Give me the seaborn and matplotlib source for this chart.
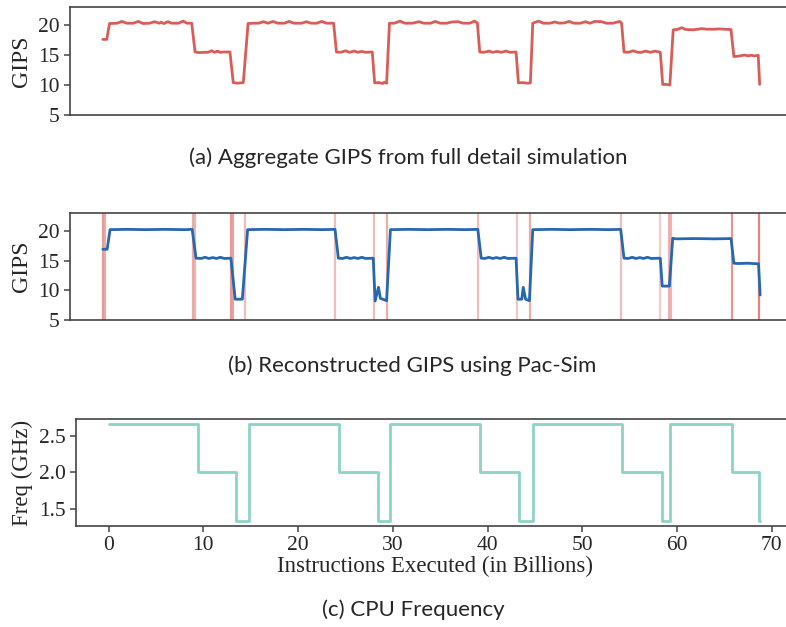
import numpy as np
import pandas as pd
import matplotlib
matplotlib.use("Agg")
import matplotlib.pyplot as plt
import seaborn as sns

# (a) aggregate GIPS, full detail simulation
full_x = [0.0, 0.4, 0.7, 1.5, 2.0, 2.5, 3.2, 3.7, 4.2, 4.9, 5.4, 5.9, 6.1, 6.4, 6.8, 7.2, 7.9, 8.4, 8.8, 9.3,
          9.65, 10.1, 10.6, 11.0, 11.4, 11.7, 12.0, 12.3, 12.7, 13.3, 13.65, 14.1, 14.7,
          15.2, 15.8, 16.3, 16.8, 17.3, 17.8, 18.3, 19.0, 19.5, 20.0, 20.8, 21.3, 21.8, 22.4, 22.9, 23.4, 24.15,
          24.45, 24.9, 25.4, 25.8, 26.3, 26.7, 27.1, 27.5, 28.2, 28.45, 28.9, 29.3, 29.45, 29.7,
          30.0, 30.5, 31.1, 31.6, 32.4, 33.1, 33.6, 34.3, 34.8, 35.3, 36.0, 36.5, 37.2, 37.7, 38.4, 38.9, 39.2,
          39.45, 39.9, 40.4, 40.8, 41.3, 41.7, 42.2, 42.6, 43.25, 43.5, 44.0, 44.4, 44.75,
          45.0, 45.6, 46.1, 46.8, 47.3, 47.8, 48.3, 48.8, 49.3, 50.0, 50.5, 51.0, 51.5, 52.2, 52.7, 53.4, 54.1, 54.3,
          54.55, 55.0, 55.5, 56.0, 56.4, 56.8, 57.3, 57.8, 58.35, 58.6, 59.0, 59.35,
          59.7, 60.1, 60.6, 61.0, 61.8, 62.3, 62.7, 63.2, 64.0, 64.5, 65.0, 65.75,
          66.05, 66.5, 67.2, 67.5, 67.9, 68.2, 68.6, 68.75]
full_gips = [17.6, 17.6, 20.25, 20.3, 20.6, 20.3, 20.3, 20.6, 20.25, 20.3, 20.55, 20.3, 20.45, 20.25, 20.55, 20.3, 20.3, 20.65, 20.3, 20.3,
             15.5, 15.4, 15.45, 15.45, 15.7, 15.45, 15.65, 15.45, 15.5, 15.5, 10.4, 10.3, 10.4,
             20.25, 20.3, 20.3, 20.55, 20.3, 20.6, 20.3, 20.3, 20.6, 20.3, 20.3, 20.55, 20.3, 20.3, 20.6, 20.3, 20.3,
             15.5, 15.45, 15.7, 15.45, 15.65, 15.45, 15.6, 15.45, 15.5, 10.35, 10.4, 10.25, 10.45, 10.3,
             20.3, 20.3, 20.65, 20.3, 20.3, 20.55, 20.3, 20.3, 20.6, 20.3, 20.3, 20.5, 20.55, 20.3, 20.3, 20.65, 20.35,
             15.5, 15.45, 15.65, 15.45, 15.6, 15.45, 15.65, 15.45, 15.5, 10.35, 10.4, 10.3, 10.35,
             20.3, 20.65, 20.3, 20.3, 20.5, 20.3, 20.35, 20.6, 20.3, 20.3, 20.55, 20.3, 20.6, 20.55, 20.3, 20.3, 20.6, 20.3,
             15.5, 15.45, 15.7, 15.45, 15.45, 15.65, 15.45, 15.65, 15.45, 10.1, 10.1, 10.0,
             19.2, 19.25, 19.55, 19.25, 19.2, 19.3, 19.4, 19.3, 19.3, 19.35, 19.3, 19.25,
             14.75, 14.8, 15.0, 14.85, 14.95, 14.85, 14.95, 10.1]

# (b) GIPS reconstructed with Pac-Sim
pac_x = [0.0, 0.45, 0.75, 2.5, 4.5, 6.5, 8.5, 9.35,
         9.75, 10.3, 10.7, 11.1, 11.5, 11.9, 12.3, 12.7, 13.4, 13.85, 14.6,
         15.15, 17.0, 19.0, 21.0, 23.0, 24.3,
         24.65, 25.1, 25.5, 25.9, 26.3, 26.7, 27.1, 27.5, 28.3, 28.5, 28.85, 29.05, 29.7,
         30.1, 32.0, 34.0, 36.0, 38.0, 39.25,
         39.6, 40.0, 40.4, 40.8, 41.2, 41.6, 42.0, 42.4, 43.25, 43.45, 43.85, 44.0, 44.25, 44.65,
         45.0, 47.0, 49.0, 51.0, 53.0, 54.2,
         54.55, 55.0, 55.4, 55.8, 56.2, 56.6, 57.0, 57.4, 58.35, 58.55, 59.3,
         59.65, 60.0, 62.0, 64.0, 65.75,
         66.05, 66.5, 67.5, 68.63, 68.8]
pac_gips = [16.9, 16.9, 20.2, 20.25, 20.2, 20.25, 20.2, 20.25,
            15.4, 15.35, 15.55, 15.35, 15.5, 15.35, 15.55, 15.35, 15.4, 8.5, 8.5,
            20.2, 20.25, 20.2, 20.25, 20.2, 20.25,
            15.4, 15.35, 15.55, 15.35, 15.5, 15.35, 15.55, 15.35, 15.4, 8.2, 10.5, 8.65, 8.25,
            20.2, 20.25, 20.2, 20.25, 20.2, 20.25,
            15.4, 15.35, 15.55, 15.35, 15.5, 15.35, 15.55, 15.35, 15.4, 8.5, 8.5, 10.5, 8.5, 8.25,
            20.2, 20.25, 20.2, 20.25, 20.2, 20.25,
            15.4, 15.35, 15.55, 15.35, 15.5, 15.35, 15.55, 15.35, 15.4, 10.7, 10.7,
            18.75, 18.65, 18.7, 18.65, 18.7,
            14.55, 14.5, 14.55, 14.45, 9.2]

# sample points chosen by Pac-Sim (red markers)
sample_x = [0.0, 0.25, 9.4, 9.6, 13.45, 13.6, 14.88, 24.3, 28.4, 29.72,
            39.25, 43.33, 44.72, 54.25, 58.33, 59.3, 59.5, 65.9, 68.7]
sample_alpha = [0.6, 0.5, 0.5, 0.45, 0.6, 0.55, 0.4, 0.4, 0.4, 0.5,
                0.4, 0.35, 0.5, 0.4, 0.3, 0.45, 0.45, 0.65, 0.75]

# (c) CPU frequency
freq_x = [0.0, 9.4, 13.45, 14.8, 24.3, 28.4, 29.7, 39.2, 43.3, 44.75, 54.2, 58.4, 59.3, 65.8, 68.7, 68.8]
freq_ghz = [2.66, 2.0, 1.33, 2.66, 2.0, 1.33, 2.66, 2.0, 1.33, 2.66, 2.0, 1.33, 2.66, 2.0, 1.33, 1.33]

RED = "#d95c57"
BLUE = "#2767b0"
TEAL = "#8dd3c7"
SERIF = ["Liberation Serif", "DejaVu Serif"]

sns.set_style("ticks")
plt.rcParams["font.family"] = SERIF
plt.rcParams["axes.edgecolor"] = "#444444"
plt.rcParams["axes.linewidth"] = 1.2

W, H = 786, 627
fig = plt.figure(figsize=(W / 100, H / 100), dpi=100)
ax_a = fig.add_axes([70 / W, 1 - 115 / H, 723 / W, 108 / H])
ax_b = fig.add_axes([70 / W, 1 - 320 / H, 723 / W, 107 / H])
ax_c = fig.add_axes([76 / W, 1 - 526 / H, 717 / W, 107 / H])

sns.lineplot(x=full_x, y=full_gips, ax=ax_a, color=RED, lw=2.0, sort=False, estimator=None)

for xv, a in zip(sample_x, sample_alpha):
    ax_b.axvline(xv, color=RED, alpha=a, lw=1.6, zorder=1)
sns.lineplot(x=pac_x, y=pac_gips, ax=ax_b, color=BLUE, lw=2.0, sort=False, estimator=None, zorder=3)

sns.lineplot(x=freq_x, y=freq_ghz, ax=ax_c, color=TEAL, lw=2.0, sort=False, estimator=None,
             drawstyle="steps-post")

for ax in (ax_a, ax_b, ax_c):
    ax.set_xlim(-3.44, 72.24)
    ax.spines["right"].set_visible(False)
    ax.tick_params(axis="both", labelsize=15.5, length=4, width=1.1, color="#444444")

for ax in (ax_a, ax_b):
    ax.set_ylim(5, 23)
    ax.set_yticks([5, 10, 15, 20])
    ax.set_xticks([])
    ax.set_xlabel("")
    ax.set_ylabel("GIPS", fontsize=17)

ax_c.set_ylim(1.2635, 2.7265)
ax_c.set_yticks([1.5, 2.0, 2.5])
ax_c.set_yticklabels(["1.5", "2.0", "2.5"])
ax_c.set_xticks(range(0, 71, 10))
ax_c.set_ylabel("Freq (GHz)", fontsize=16.5)
ax_c.set_xlabel("Instructions Executed (in Billions)", fontsize=16.5, labelpad=0)

cap = dict(ha="center", va="center", fontsize=16, family=["Lato", "DejaVu Sans"])
fig.text(408 / W, 1 - 158 / H, "(a) Aggregate GIPS from full detail simulation", **cap)
fig.text(412 / W, 1 - 366 / H, "(b) Reconstructed GIPS using Pac-Sim", **cap)
fig.text(413 / W, 1 - 610 / H, "(c) CPU Frequency", **cap)

fig.savefig("out.png", dpi=100)
